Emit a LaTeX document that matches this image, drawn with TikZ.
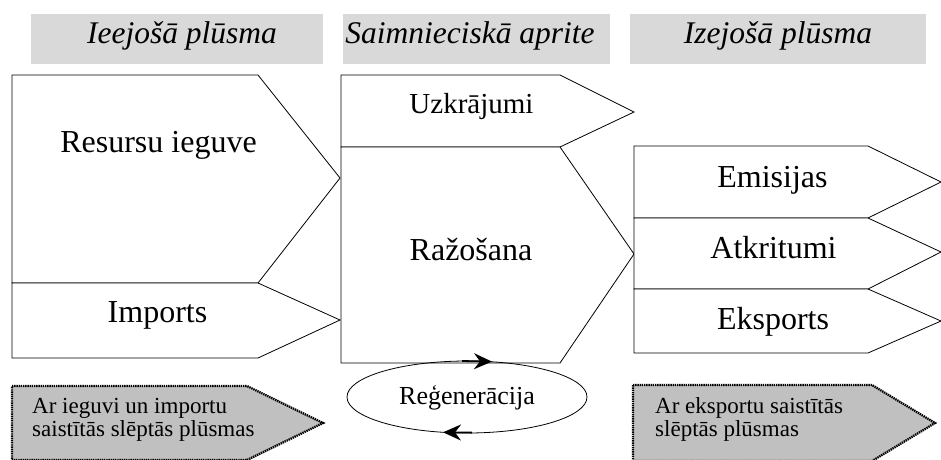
\documentclass[tikz,border=0pt]{standalone}
\usepackage{fontspec}
\setmainfont{Liberation Serif}
\usetikzlibrary{shapes.geometric,arrows.meta}
\definecolor{hdrgray}{HTML}{D9D9D9}
\definecolor{hidgray}{HTML}{C0C0C0}
\tikzset{
  x=1pt, y=-1pt,
  hdrbox/.style={fill=hdrgray, draw=none},
  flowbox/.style={draw=black, line width=0.8pt, fill=white, line join=miter},
  hidbox/.style={draw=black, fill=hidgray, line width=2.3pt, dash pattern=on 1.4pt off 0.8pt},
  hdrtext/.style={inner sep=0pt, anchor=base, font=\fontsize{31.5}{37}\selectfont\itshape},
  bigtext/.style={inner sep=0pt, anchor=base, font=\fontsize{32}{37}\selectfont},
  midtext/.style={inner sep=0pt, anchor=base, font=\fontsize{29}{35}\selectfont},
  smalltext/.style={inner sep=0pt, anchor=base west, align=left, font=\fontsize{23}{23}\selectfont},
  cycarrow/.style={line width=1.8pt, -{Stealth[length=18pt,width=16pt,inset=6pt]}}
}
\begin{document}
\begin{tikzpicture}
\useasboundingbox (0,0) rectangle (941,459);
% headers
\fill[hdrbox] (31,14) rectangle (323,64);
\fill[hdrbox] (343,14) rectangle (610,64);
\fill[hdrbox] (630,14) rectangle (926,64);
\node[hdrtext] (h1) at (182,43) {Ieejošā plūsma};
\node[hdrtext] (h2) at (470,43) {Saimnieciskā aprite};
\node[hdrtext] (h3) at (778,43) {Izejošā plūsma};
% input flow
\draw[flowbox] (12,75) -- (258,75) -- (340,178) -- (258,283) -- (12,283) -- cycle;
\draw[flowbox] (12,283) -- (258,283) -- (340,320) -- (258,358) -- (12,358) -- cycle;
\node[bigtext] (res) at (158.5,152) {Resursu ieguve};
\node[bigtext] (imp) at (157.5,322) {Imports};
% economy
\draw[flowbox] (341,75) -- (560,75) -- (634,112) -- (560,147) -- (341,147) -- cycle;
\draw[flowbox] (341,147) -- (560,147) -- (634,254) -- (560,363) -- (341,363) -- cycle;
\node[midtext] (uzk) at (471.5,113) {Uzkrājumi};
\node[bigtext] (raz) at (471,260) {Ražošana};
% output flow
\draw[flowbox] (634,146) -- (868,146) -- (941,182) -- (868,218) -- (634,218) -- cycle;
\draw[flowbox] (634,218) -- (868,218) -- (941,252) -- (868,289) -- (634,289) -- cycle;
\draw[flowbox] (634,289) -- (868,289) -- (941,321) -- (868,353) -- (634,353) -- cycle;
\node[bigtext] (emi) at (772.5,187) {Emisijas};
\node[bigtext] (atk) at (773.5,258) {Atkritumi};
\node[bigtext] (eks) at (773,329) {Eksports};
% regeneration
\node[ellipse, draw=black, line width=0.8pt, minimum width=240pt, minimum height=72pt, inner sep=0pt] (reg) at (467,397) {};
\node[inner sep=0pt, anchor=base, font=\fontsize{26}{30}\selectfont] (regt) at (467,404) {Reģenerācija};
\coordinate (ta1) at (462,361);
\coordinate (ta2) at (492,361.6);
\coordinate (ba1) at (472,432.6);
\coordinate (ba2) at (443,432.3);
\draw[cycarrow] (ta1) -- (ta2);
\draw[cycarrow] (ba1) -- (ba2);
% hidden flows
\draw[hidbox] (12,386) -- (247,386) -- (323,423) -- (247,460) -- (12,460) -- cycle;
\draw[hidbox] (633,385) -- (872,385) -- (935,423) -- (872,461) -- (633,461) -- cycle;
\node[smalltext] (hid1) at (32,436) {Ar ieguvi un importu\\saistītās slēptās plūsmas};
\node[smalltext] (hid2) at (655,436) {Ar eksportu saistītās\\slēptās plūsmas};
\end{tikzpicture}
\end{document}
